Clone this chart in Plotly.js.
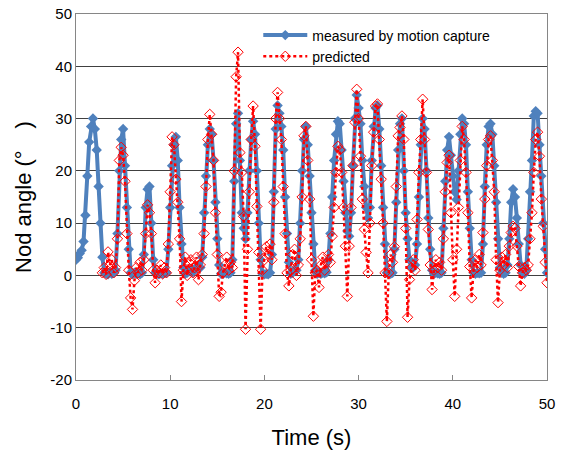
<!DOCTYPE html>
<html>
<head>
<meta charset="utf-8">
<script src="https://cdn.plot.ly/plotly-3.0.1.min.js"></script>
<style>html,body{margin:0;padding:0;background:#fff;}#chart{width:563px;height:450px;}</style>
</head>
<body>
<div id="chart"></div>
<script>
// sampling step of the recording (s)
const dt = 0.2;

// Nod angle measured by motion capture (deg), t = 0 .. 50 s
const measured = [
3.0,3.4,4.2,4.8,6.5,11.5,19.0,25.5,28.5,30.0,
28.0,24.0,17.0,10.0,3.5,0.5,0.3,0.2,0.6,0.3,
0.5,1.0,8.0,20.0,26.0,28.0,21.0,13.0,5.0,0.5,
0.2,0.5,0.3,0.4,0.2,0.5,4.0,13.0,16.5,17.0,
10.0,3.0,0.5,0.3,0.2,0.4,0.3,0.5,0.5,5.0,
13.0,21.0,25.0,26.5,22.0,13.0,6.0,1.5,0.3,0.5,
0.8,1.0,0.6,1.2,1.5,2.0,1.5,3.5,12.0,19.0,
25.0,28.0,27.0,22.0,14.0,7.0,2.0,0.3,0.3,0.5,
0.4,0.3,0.5,3.0,18.0,29.0,31.0,22.0,12.0,9.0,
7.0,12.0,20.0,26.0,29.5,27.0,20.0,10.0,3.0,0.3,
0.2,0.3,0.2,0.5,4.0,16.0,28.0,32.5,31.0,28.5,
24.0,15.0,8.0,2.5,0.3,0.5,1.0,1.0,3.0,10.0,
20.0,26.0,28.5,25.0,19.0,12.0,6.0,1.0,0.3,0.5,
0.3,0.5,0.4,0.6,3.0,8.0,15.0,22.0,27.0,29.5,
29.0,24.0,18.0,12.0,8.5,7.5,12.0,21.0,30.0,34.5,
32.0,29.0,22.0,17.0,13.0,11.0,13.0,22.0,28.5,32.0,
32.5,28.0,21.0,13.0,6.0,0.5,0.3,0.3,0.5,5.0,
14.0,24.0,29.0,30.0,20.0,12.0,7.0,3.0,1.5,1.5,
2.0,6.0,15.0,25.0,30.0,28.0,20.0,11.0,5.0,1.0,
0.3,0.5,0.4,0.3,0.5,9.0,18.0,24.0,26.5,23.0,
19.0,16.0,14.5,20.0,27.0,30.0,29.0,25.0,16.0,9.0,
3.0,0.5,0.3,0.5,0.4,0.5,6.0,17.0,25.0,28.5,
29.0,27.0,21.0,14.0,7.0,1.5,0.5,0.3,0.5,2.0,
7.0,14.0,16.5,15.0,11.0,6.0,2.0,0.5,0.3,1.0,
7.0,16.0,22.0,30.5,31.4,31.0,25.0,19.0,10.0,5.0,
0.5
];

// Nod angle predicted (deg), same time base; no prediction before 2.8 s
const predicted = [
null,null,null,null,null,null,null,null,null,null,
null,null,null,null,0.5,1.5,0.2,4.5,2.0,3.0,
0.5,1.5,7.0,22.0,24.5,23.0,18.0,8.0,1.0,-4.3,
-6.5,-1.0,1.5,0.5,2.5,1.0,3.0,8.0,13.5,12.0,
8.0,1.0,-1.4,1.0,0.5,2.0,0.3,1.5,0.5,6.0,
16.0,26.5,25.0,18.4,14.0,7.0,-5.0,1.0,3.5,0.0,
2.5,3.0,0.5,1.5,3.5,-0.8,2.0,4.0,8.0,17.0,
26.0,30.8,27.0,22.0,12.0,4.0,-4.0,-3.2,0.5,2.0,
3.5,1.0,2.5,1.5,20.0,38.0,42.7,23.5,19.7,11.3,
-10.3,5.0,16.0,26.0,32.4,24.7,13.2,4.4,-10.3,1.0,
3.0,5.5,4.0,6.0,3.0,14.0,30.0,35.0,30.0,26.0,
17.0,8.0,0.5,-2.0,1.0,4.0,5.0,0.0,2.0,7.0,
15.0,26.7,28.5,22.0,14.6,3.0,-7.8,0.5,1.0,-2.3,
2.0,3.5,1.0,2.5,4.0,2.5,7.5,13.0,19.7,24.7,
24.0,19.7,13.0,5.6,-4.0,5.6,13.0,21.0,29.3,35.6,
30.0,22.8,14.6,8.8,4.4,0.5,10.0,21.0,27.4,32.4,
32.8,26.0,18.4,10.0,0.5,-8.8,0.5,4.0,2.5,5.5,
17.0,26.7,28.3,30.5,26.0,9.0,-8.0,-0.8,1.5,3.0,
1.0,10.7,19.7,26.0,33.7,26.0,19.7,8.8,2.0,-2.7,
1.0,3.0,1.5,2.5,1.0,7.0,16.0,21.6,23.0,12.0,
3.0,-4.0,5.0,13.0,22.0,28.5,26.0,19.7,12.0,1.7,
-4.3,1.0,3.0,1.5,4.0,2.0,8.2,14.6,21.0,26.0,
26.7,22.0,16.0,3.0,-5.2,1.0,3.5,2.0,4.0,1.5,
5.6,8.2,9.4,9.0,5.6,1.7,-2.0,0.5,1.5,1.0,
2.0,7.0,12.0,19.7,26.0,27.4,22.8,14.6,9.4,2.5,
-1.4
];

const time = measured.map((_, i) => +(i * dt).toFixed(1));

const seriesNames = ['measured by motion capture', 'predicted'];
const xTicks = [0, 10, 20, 30, 40, 50];
const yTicks = [-20, -10, 0, 10, 20, 30, 40, 50];

const traces = [
  {
    x: time, y: measured, name: seriesNames[0], type: 'scatter', mode: 'lines+markers',
    line: {color: '#4F81BD', width: 4},
    marker: {symbol: 'diamond', size: 8, color: '#4F81BD'}
  },
  {
    x: time, y: predicted, name: seriesNames[1], type: 'scatter', mode: 'lines+markers',
    connectgaps: false,
    line: {color: '#FF0000', width: 2.5, dash: 'dot'},
    marker: {symbol: 'diamond-open', size: 8, color: '#FF0000', line: {width: 1}}
  }
];

const font = 'Liberation Sans, Arial, sans-serif';

const layout = {
  width: 563, height: 450,
  margin: {l: 76, r: 16, t: 14, b: 70},
  paper_bgcolor: '#ffffff', plot_bgcolor: '#ffffff',
  font: {family: font, color: '#000', size: 14},
  showlegend: true,
  legend: {
    x: 0.387, y: 0.985, xanchor: 'left', yanchor: 'top',
    bgcolor: 'rgba(255,255,255,0)', borderwidth: 0,
    itemwidth: 44,
    font: {family: font, size: 14, color: '#000'},
    tracegroupgap: 0
  },
  xaxis: {
    range: [0, 50], tickvals: xTicks, ticktext: xTicks.map(String),
    showgrid: false, zeroline: false,
    showline: true, linecolor: '#868686', linewidth: 1, mirror: true,
    ticks: 'inside', ticklen: 5, tickcolor: '#868686',
    ticklabelstandoff: 10,
    tickfont: {family: font, size: 15},
    title: {text: 'Time (s)', font: {family: font, size: 22}, standoff: 18}
  },
  yaxis: {
    range: [-20, 50], tickvals: yTicks, ticktext: yTicks.map(String),
    showgrid: true, gridcolor: '#404040', gridwidth: 1,
    zeroline: true, zerolinecolor: '#404040', zerolinewidth: 1,
    showline: true, linecolor: '#868686', linewidth: 1, mirror: true,
    ticks: '', tickfont: {family: font, size: 15},
    title: {text: 'Nod angle (°\u2003)', font: {family: font, size: 22}, standoff: 12}
  }
};

Plotly.newPlot('chart', traces, layout, {displayModeBar: false, staticPlot: true});
</script>
</body>
</html>
